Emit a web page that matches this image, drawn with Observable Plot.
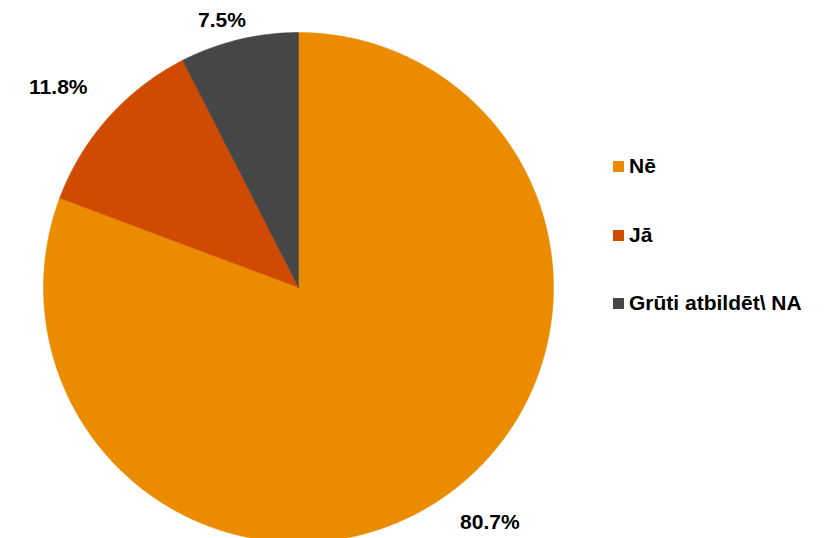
<!DOCTYPE html>
<html>
<head>
<meta charset="utf-8">
<script src="https://cdn.jsdelivr.net/npm/d3@7"></script>
<script src="https://cdn.jsdelivr.net/npm/@observablehq/plot@0.6"></script>
<style>
  html, body { margin: 0; padding: 0; background: #fff; }
  #wrap { position: relative; width: 828px; height: 538px; overflow: hidden; font-family: "Liberation Sans", Arial, sans-serif; }
  #legend { position: absolute; left: 613px; top: 0; }
  .item { position: absolute; left: 0; white-space: nowrap; font-weight: bold; font-size: 21px; color: #000; display: flex; align-items: center; transform: translateY(-50%); }
  .sw { width: 11px; height: 11px; margin-right: 5px; display: inline-block; }
</style>
</head>
<body>
<div id="wrap"></div>
<script>
// Data
const categories = ["Nē", "Jā", "Grūti atbildēt\\ NA"];
const values = [80.7, 11.8, 7.5];
const labels = ["80.7%", "11.8%", "7.5%"];
const colors = ["#EB8C00", "#D04A02", "#464646"];

// Layout constants (pixels)
const W = 828, H = 538;
const CX = 298, CY = 287, R = 255;
const labelOffsets = [[46, 25], [-50, -30], [-17, -19]];
const legendY = [166, 235, 303];

// Build slice polygons from pie angles (clockwise from 12 o'clock)
const total = d3.sum(values);
const pts = [];
const lab = [];
let start = 0;
values.forEach((v, i) => {
  const a0 = start, a1 = start + (v / total) * 2 * Math.PI;
  start = a1;
  const n = Math.max(2, Math.ceil((a1 - a0) / (Math.PI / 360)));
  pts.push({cat: categories[i], x: 0, y: 0});
  for (let k = 0; k <= n; k++) {
    const a = a0 + (a1 - a0) * k / n;
    pts.push({cat: categories[i], x: Math.sin(a), y: Math.cos(a)});
  }
  pts.push({cat: categories[i], x: 0, y: 0});
  const am = (a0 + a1) / 2;
  lab.push({text: labels[i], x: Math.sin(am), y: Math.cos(am), dx: labelOffsets[i][0], dy: labelOffsets[i][1]});
});

const chart = Plot.plot({
  width: W, height: H,
  margin: 0,
  x: {domain: [-CX / R, (W - CX) / R], axis: null},
  y: {domain: [-(H - CY) / R, CY / R], axis: null},
  color: {domain: categories, range: colors},
  style: {fontFamily: "'Liberation Sans', Arial, sans-serif", background: "white"},
  marks: [
    Plot.line(pts, {x: "x", y: "y", z: "cat", fill: "cat", stroke: "cat", strokeWidth: 0.5, curve: "linear"}),
    ...lab.map(d => Plot.text([d], {x: "x", y: "y", text: "text", dx: d.dx, dy: d.dy, fontSize: 21, fontWeight: "bold", fill: "#000"}))
  ]
});

const wrap = document.getElementById("wrap");
wrap.appendChild(chart);

const legend = document.createElement("div");
legend.id = "legend";
categories.forEach((c, i) => {
  const it = document.createElement("div");
  it.className = "item";
  it.style.top = legendY[i] + "px";
  const sw = document.createElement("span");
  sw.className = "sw";
  sw.style.background = colors[i];
  it.appendChild(sw);
  it.appendChild(document.createTextNode(c));
  legend.appendChild(it);
});
wrap.appendChild(legend);
</script>
</body>
</html>
